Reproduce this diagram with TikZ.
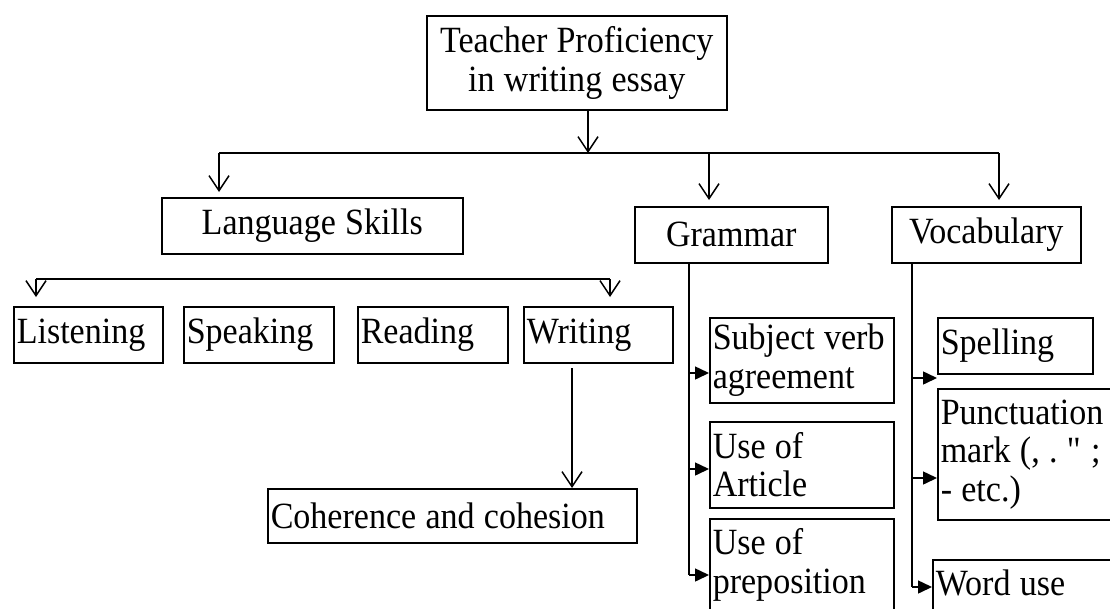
\documentclass[tikz,border=0pt]{standalone}
\usepackage{fontspec}
\setmainfont{Liberation Serif}[FakeStretch=0.92]
\usetikzlibrary{arrows.meta}
\tikzset{
  box/.style={draw, line width=1.5pt, inner xsep=3pt, inner ysep=0pt, anchor=north west,
    font=\fontsize{37}{38.5}\selectfont, align=left,
    execute at begin node={\spaceskip=0.25em\relax\xspaceskip=0.25em\relax}},
  conn/.style={line width=1.5pt},
  oarr/.style={conn, -{Straight Barb[length=15pt,width=20pt]}},
  farr/.style={conn, -{Triangle[length=14pt,width=13pt]}},
}
\begin{document}
\begin{tikzpicture}[x=1pt,y=-1pt]
\clip (0,0) rectangle (1110,608);
% boxes
\node[box, minimum width=300pt, minimum height=94pt, text width=294pt, align=center] (top) at (426,15) {Teacher Proficiency\\in writing essay};
\node[box, minimum width=301pt, minimum height=56pt, text width=295pt, align=center] (lang) at (161,197) {Language Skills};
\node[box, minimum width=193pt, minimum height=56pt, text width=187pt, align=center] (gram) at (634,206) {Grammar};
\node[box, minimum width=189pt, minimum height=56pt, text width=183pt, align=center] (voc) at (891,206) {Vocabulary};
\node[box, minimum width=149pt, minimum height=56pt, text width=143pt] (lis) at (13,306) {Listening};
\node[box, minimum width=150pt, minimum height=56pt, text width=144pt] (spk) at (183,306) {Speaking};
\node[box, minimum width=150pt, minimum height=56pt, text width=144pt] (rea) at (357,306) {Reading};
\node[box, minimum width=149pt, minimum height=56pt, text width=143pt] (wri) at (523,306) {Writing};
\node[box, minimum width=369pt, minimum height=54pt, text width=363pt] (coh) at (267,488) {Coherence and cohesion};
\node[box, minimum width=184pt, minimum height=85pt, text width=178pt] (sv) at (709,317) {Subject verb\\agreement};
\node[box, minimum width=184pt, minimum height=86pt, text width=178pt] (art) at (709,421) {Use of\\Article};
\node[box, minimum width=184pt, minimum height=92pt, text width=178pt] (pre) at (709,518) {Use of\\preposition};
\node[box, minimum width=155pt, minimum height=56pt, text width=149pt] (spe) at (937,317) {Spelling};
\node[box, minimum width=200pt, minimum height=131pt, text width=194pt] (pun) at (937,388) {Punctuation\\mark (, . \textquotedbl{} ;\\- etc.)};
\node[box, minimum width=200pt, inner ysep=11pt, text height=25pt, text depth=20pt, text width=194pt] (wor) at (932,559) {Word use};
% junction coordinates
\coordinate (j0) at (588,153);
\coordinate (jL) at (219,153);
\coordinate (jG) at (709,153);
\coordinate (jV) at (999,153);
\coordinate (k1) at (36,279);
\coordinate (k2) at (610,279);
\coordinate (w1) at (572,368);
\coordinate (g0) at (689,262);
\coordinate (g3) at (689,575);
\coordinate (v0) at (912,262);
\coordinate (v3) at (912,587);
\coordinate (t1) at (937,378);
\coordinate (t2) at (937,478);
% top level
\draw[oarr] (top.south -| j0) -- (j0);
\draw[conn] (jL) -- (jV);
\draw[oarr, shorten >=5pt] (jL) -- (jL |- lang.north);
\draw[oarr, shorten >=6pt] (jG) -- (jG |- gram.north);
\draw[oarr, shorten >=6pt] (jV) -- (jV |- voc.north);
% language skills
\draw[conn] (k1) -- (k2);
\draw[oarr, shorten >=9pt] (k1) -- (k1 |- lis.north);
\draw[oarr, shorten >=9pt] (k2) -- (k2 |- wri.north);
\draw[oarr] (w1) -- (w1 |- coh.north);
% grammar
\draw[conn] (g0) -- (g3);
\draw[farr] (g0 |- 0,373) -- (sv.west |- 0,373);
\draw[farr] (g0 |- 0,469) -- (art.west |- 0,469);
\draw[farr] (g3) -- (pre.west |- g3);
% vocabulary
\draw[conn] (v0) -- (v3);
\draw[farr] (v0 |- t1) -- (t1);
\draw[farr] (v0 |- t2) -- (t2);
\draw[farr] (v3) -- (wor.west |- v3);
\end{tikzpicture}
\end{document}
